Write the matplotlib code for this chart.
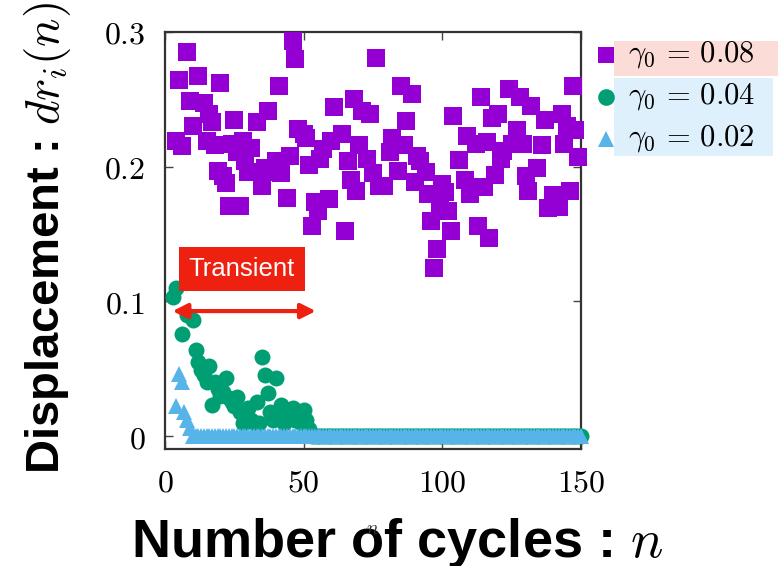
import matplotlib
matplotlib.use('Agg')
import matplotlib.pyplot as plt
from matplotlib.lines import Line2D
from matplotlib.patches import Rectangle

plt.rcParams['mathtext.fontset'] = 'cm'

# gamma0 = 0.08 (purple squares)
n_08 = [4, 5, 6, 8, 9, 10, 12, 14, 15, 16, 17, 18, 19, 20, 21, 22, 23, 24, 25, 26,
        27, 28, 29, 30, 31, 33, 35, 36, 37, 38, 40, 41, 42, 44, 45, 46, 47, 48, 50, 51,
        52, 53, 54, 55, 56, 57, 59, 60, 61, 64, 65, 66, 67, 68, 69, 70, 71, 73, 74, 75,
        76, 77, 79, 81, 82, 84, 85, 86, 87, 89, 90, 91, 92, 94, 95, 96, 97, 98, 99, 100,
        101, 102, 103, 104, 106, 108, 109, 110, 111, 112, 113, 114, 115, 116, 117, 118, 119, 120, 121, 122,
        124, 125, 127, 128, 129, 130, 131, 132, 134, 136, 137, 138, 140, 142, 143, 144, 145, 146, 147, 148,
        149]
dr_08 = [0.219, 0.264, 0.215, 0.285, 0.249, 0.230, 0.267, 0.247, 0.219, 0.239, 0.233, 0.216, 0.197, 0.262, 0.193, 0.188, 0.171, 0.217, 0.235, 0.211,
         0.171, 0.219, 0.204, 0.196, 0.214, 0.233, 0.186, 0.199, 0.241, 0.196, 0.204, 0.260, 0.195, 0.177, 0.208, 0.293, 0.280, 0.228, 0.224, 0.221,
         0.201, 0.156, 0.174, 0.167, 0.206, 0.213, 0.176, 0.219, 0.244, 0.224, 0.152, 0.204, 0.190, 0.250, 0.182, 0.216, 0.241, 0.206, 0.239, 0.195,
         0.281, 0.186, 0.186, 0.211, 0.221, 0.197, 0.260, 0.216, 0.234, 0.254, 0.189, 0.208, 0.204, 0.196, 0.180, 0.160, 0.125, 0.139, 0.171, 0.187,
         0.181, 0.167, 0.152, 0.238, 0.205, 0.190, 0.223, 0.180, 0.185, 0.217, 0.156, 0.252, 0.185, 0.218, 0.147, 0.236, 0.194, 0.239, 0.206, 0.212,
         0.258, 0.217, 0.227, 0.252, 0.217, 0.193, 0.182, 0.245, 0.199, 0.216, 0.235, 0.169, 0.179, 0.170, 0.239, 0.217, 0.230, 0.182, 0.260, 0.227,
         0.207]

# gamma0 = 0.04 (green circles): transient part, then zero up to n = 150
n_04_transient = [3, 4, 6, 8, 10, 11, 12, 13, 14, 15, 16, 17, 18, 19, 20, 21, 22, 23, 24, 25,
                  26, 27, 28, 29, 30, 31, 32, 33, 34, 35, 36, 37, 38, 39, 40, 41, 42, 43, 44, 45,
                  46, 47, 48, 49, 50, 51, 52]
dr_04_transient = [0.103, 0.110, 0.076, 0.090, 0.086, 0.064, 0.055, 0.049, 0.045, 0.040, 0.052, 0.023, 0.040, 0.035, 0.030, 0.033, 0.043, 0.028, 0.025, 0.022,
                   0.029, 0.018, 0.010, 0.015, 0.021, 0.012, 0.010, 0.025, 0.010, 0.059, 0.045, 0.032, 0.018, 0.012, 0.043, 0.014, 0.023, 0.010, 0.015, 0.018,
                   0.021, 0.012, 0.015, 0.010, 0.019, 0.012, 0.005]
n_04 = n_04_transient + list(range(53, 151))
dr_04 = dr_04_transient + [0.0] * (151 - 53)

# gamma0 = 0.02 (blue triangles)
n_02 = list(range(4, 151))
dr_02_transient = [0.022, 0.046, 0.040, 0.018, 0.012, 0.006]
dr_02 = dr_02_transient + [0.0] * (len(n_02) - len(dr_02_transient))

purple = '#9400D3'
green = '#009E73'
blue = '#56B4E9'
red = '#EE2010'

W, H = 778, 566
fig = plt.figure(figsize=(W / 100, H / 100), dpi=100)
ax = fig.add_axes([165 / W, 1 - 449 / H, (581 - 165) / W, (449 - 32) / H])

ax.plot(n_08, dr_08, 's', color=purple, ms=12.8, mew=0, clip_on=False, zorder=3)
ax.plot(n_04, dr_04, 'o', color=green, ms=11.5, mew=0, clip_on=False, zorder=4)
ax.plot(n_02, dr_02, '^', color=blue, ms=11.5, mew=0, clip_on=False, zorder=5)

ax.set_xlim(0, 150)
ax.set_ylim(-0.0096, 0.3)
ax.set_xticks([0, 50, 100, 150])
ax.set_xticklabels(['$0$', '$50$', '$100$', '$150$'])
ax.set_yticks([0, 0.1, 0.2, 0.3])
ax.set_yticklabels(['$0$', '$0.1$', '$0.2$', '$0.3$'])
ax.tick_params(direction='in', length=6, width=1, top=True, right=True,
               labelsize=23, color='#444444')
ax.tick_params(axis='x', pad=13)
ax.tick_params(axis='y', pad=14)
for s in ax.spines.values():
    s.set_linewidth(1.6)
    s.set_color('#333333')

# transient annotation
ax.annotate('', xy=(2.7, 0.0928), xytext=(54.4, 0.0928),
            arrowprops=dict(arrowstyle='<|-|>', color=red, lw=3, mutation_scale=22,
                            shrinkA=0, shrinkB=0), zorder=6)
ax.text(8.6, 0.124, 'Transient', color='white', fontsize=18.5, family='Liberation Sans',
        va='center', ha='left', zorder=7,
        bbox=dict(boxstyle='square,pad=0.38', fc=red, ec='none'))

# axis labels
fig.text(48 / W, 1 - 238 / H, 'Displacement : $dr_i(n)$', rotation=90, fontsize=34,
         fontweight='bold', family='Liberation Sans', ha='center', va='center')
fig.text(397 / W, 1 - 557 / H, 'Number of cycles : $n$', fontsize=39,
         fontweight='bold', family='Liberation Sans', ha='center', va='baseline')
fig.text(373 / W, 1 - 528 / H, '$n$', fontsize=14, ha='center', va='center', color='#333333')

# legend
fig.add_artist(Rectangle((614 / W, 1 - 76 / H), (W - 614) / W, 35 / H,
                         transform=fig.transFigure, fc='#FBDCD7', ec='none'))
fig.add_artist(Rectangle((614 / W, 1 - 156 / H), (773 - 614) / W, 78 / H,
                         transform=fig.transFigure, fc='#DDF0FB', ec='none'))
labels = [r'$\gamma_0\,=\,0.08$', r'$\gamma_0\,=\,0.04$', r'$\gamma_0\,=\,0.02$']
markers = ['s', 'o', '^']
colors = [purple, green, blue]
rows = [55, 97, 139]
for lab, m, c, r in zip(labels, markers, colors, rows):
    fig.add_artist(Line2D([606 / W], [1 - r / H], marker=m, color=c, ms=12, mew=0,
                          transform=fig.transFigure))
    fig.text(628 / W, 1 - r / H, lab, fontsize=22, ha='left', va='center')

fig.savefig('out.png', dpi=100)
